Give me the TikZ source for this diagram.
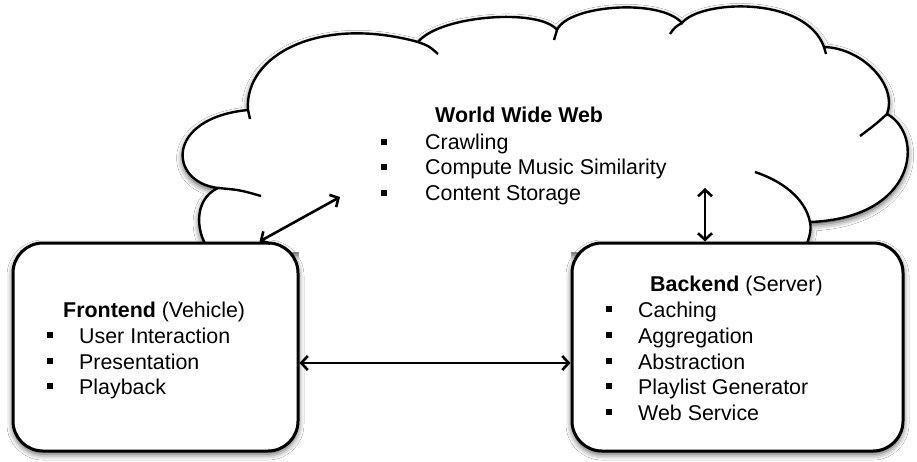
\documentclass[tikz,border=0pt]{standalone}
\usepackage{fontspec}
\setmainfont{Liberation Sans}
\usetikzlibrary{arrows.meta,shadows.blur}
\newcommand{\bulf}{\makebox[32pt][l]{\rule[4.6pt]{6pt}{6pt}}}
\newcommand{\bulc}{\makebox[44pt][l]{\rule[4.6pt]{6pt}{6pt}}}
\tikzset{
  shad/.style={blur shadow={shadow xshift=0pt, shadow yshift=-3pt, shadow blur radius=6pt, shadow opacity=70}},
  boxstyle/.style={draw=black, line width=3pt, fill=white, rounded corners=30pt, shad, inner sep=0pt},
  cloudline/.style={draw=black, line width=2.4pt},
  txt/.style={inner sep=0pt, anchor=base west, font=\fontsize{21.4}{25}\selectfont},
  arr/.style={draw=black, line width=2.6pt, {Straight Barb[length=6.5pt,width=14pt]}-{Straight Barb[length=6.5pt,width=14pt]}}
}
\begin{document}
\begin{tikzpicture}[x=1pt,y=-1pt]
\useasboundingbox (0,0) rectangle (917,462);
\fill[white] (0,0) rectangle (917,462);
% cloud fill with shadow
\fill[white, shad] (211,252) .. controls (196,236) and (192,200) .. (218,188)
  .. controls (168,182) and (165,118) .. (248,110)
  .. controls (244,55) and (320,15) .. (418,42)
  .. controls (440,15) and (540,8) .. (557,30)
  .. controls (568,5) and (660,-2) .. (682,23)
  .. controls (700,0) and (805,-5) .. (824,47)
  .. controls (862,48) and (898,85) .. (887,114)
  .. controls (925,135) and (917,218) .. (810,222)
  .. controls (812,232) and (808,242) .. (803,252) -- cycle;
\fill[white] (299,246) rectangle (571,282);
% cloud outline
\draw[cloudline] (211,252) .. controls (196,236) and (192,200) .. (218,188)
  .. controls (168,182) and (165,118) .. (248,110)
  .. controls (244,55) and (320,15) .. (418,42)
  .. controls (440,15) and (540,8) .. (557,30)
  .. controls (568,5) and (660,-2) .. (682,23)
  .. controls (700,0) and (805,-5) .. (824,47)
  .. controls (862,48) and (898,85) .. (887,114)
  .. controls (925,135) and (917,218) .. (810,222)
  .. controls (812,232) and (808,242) .. (803,252);
% cloud inner tails
\draw[cloudline] (218,188) .. controls (240,190) .. (261,196);
\draw[cloudline] (248,110) .. controls (249,114) .. (250,119);
\draw[cloudline] (418,42) .. controls (429,46) .. (438,54);
\draw[cloudline] (557,30) -- (554,40);
\draw[cloudline] (682,23) .. controls (675,27) .. (670,34);
\draw[cloudline] (824,47) -- (826,54);
\draw[cloudline] (887,114) .. controls (876,124) .. (860,136);
\draw[cloudline] (755,172) .. controls (782,181) and (805,198) .. (810,222);
% boxes
\node[boxstyle, minimum width=285pt, minimum height=208pt] (fe) at (155.5,347) {};
\node[boxstyle, minimum width=331pt, minimum height=208pt] (be) at (737.5,347) {};
% cloud text
\node[txt] (wt) at (435,123) {\textbf{World Wide Web}};
\node[txt] (w1t) at (381,150) {\bulc Crawling};
\node[txt] (w2t) at (381,175) {\bulc Compute Music Similarity};
\node[txt] (w3t) at (381,201) {\bulc Content Storage};
% frontend text
\node[txt] (ft) at (63,317) {\textbf{Frontend} (Vehicle)};
\node[txt] (f1) at (47,343) {\bulf User Interaction};
\node[txt] (f2) at (47,369) {\bulf Presentation};
\node[txt] (f3) at (47,394) {\bulf Playback};
% backend text
\node[txt] (bt) at (650,291) {\textbf{Backend} (Server)};
\node[txt] (b1) at (606,317) {\bulf Caching};
\node[txt] (b2) at (606,343) {\bulf Aggregation};
\node[txt] (b3) at (606,369) {\bulf Abstraction};
\node[txt] (b4) at (606,394) {\bulf Playlist Generator};
\node[txt] (b5) at (606,420) {\bulf Web Service};
% connectors
\coordinate (wa) at (340,197);
\coordinate (wb) at (705,188);
\draw[arr] ([xshift=-40pt]fe.north east) -- (wa);
\draw[arr] ([xshift=-32.5pt]be.north) -- (wb);
\draw[arr] ([yshift=-16pt]fe.east) -- ([yshift=-16pt]be.west);
\end{tikzpicture}
\end{document}
